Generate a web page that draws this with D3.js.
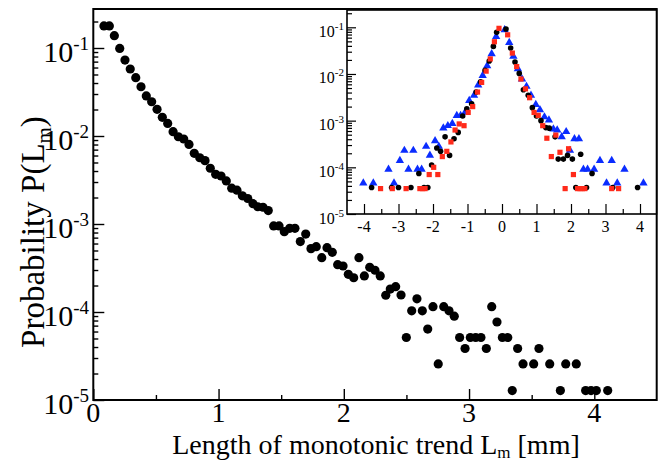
<!DOCTYPE html>
<html><head><meta charset="utf-8">
<script src="https://cdn.jsdelivr.net/npm/d3@7"></script>
<style>
body{margin:0;background:#fff}
svg{display:block}
</style>
</head><body>
<svg id="c" width="667" height="462" font-family="Liberation Serif, DejaVu Serif, serif"></svg>
<script>
// ---------------- data ----------------
const mainX = [0.085,0.128,0.168,0.211,0.253,0.295,0.339,0.381,0.423,0.466,0.509,0.551,0.594,0.637,0.679,0.722,0.764,0.806,0.850,0.892,0.934,0.977,1.020,1.062,1.105,1.147,1.190,1.233,1.275,1.313,1.355,1.397,1.440,1.483,1.525,1.568,1.610,1.653,1.696,1.738,1.780,1.824,1.866,1.908,1.951,1.994,2.036,2.079,2.121,2.164,2.207,2.249,2.291,2.335,2.371,2.414,2.457,2.499,2.542,2.584,2.627,2.670,2.712,2.754,2.798,2.840,2.882,2.925,2.968,3.010,3.053,3.095,3.138,3.181,3.223,3.266,3.309,3.345,3.388,3.431,3.516,3.558,3.644,3.729,3.772,3.856,3.931,3.974,4.016,4.107];
const mainY = [0.178,0.178,0.138,0.099,0.073,0.0577,0.046,0.0363,0.0285,0.0245,0.0201,0.0163,0.0139,0.0112,0.0098,0.00924,0.00803,0.00635,0.00566,0.00525,0.0043,0.00367,0.00351,0.00309,0.00255,0.00242,0.00209,0.00195,0.0017,0.00157,0.00155,0.00142,0.00095,0.00095,0.000817,0.000893,0.000893,0.000631,0.000769,0.000525,0.000553,0.000414,0.000538,0.000477,0.000345,0.000333,0.000268,0.000245,0.000414,0.000257,0.000322,0.000298,0.000257,0.000155,0.000182,0.000194,0.000156,5.13e-5,0.000103,0.000141,0.000103,6.4e-5,0.000115,2.57e-5,0.000115,0.000103,8.97e-5,5.13e-5,3.85e-5,5.13e-5,5.13e-5,5.13e-5,3.85e-5,0.000115,7.7e-5,5.13e-5,5.13e-5,1.28e-5,3.85e-5,2.57e-5,2.57e-5,3.85e-5,2.57e-5,1.28e-5,2.57e-5,2.57e-5,1.28e-5,1.28e-5,1.28e-5,1.28e-5];

const insetBlackX = [-3.78,-3.20,-3.00,-2.64,-2.41,-2.26,-2.15,-2.04,-1.89,-1.78,-1.65,-1.52,-1.39,-1.27,-1.14,-1.02,-0.88,-0.75,-0.62,-0.49,-0.37,-0.25,-0.155,0.116,0.25,0.377,0.50,0.62,0.76,0.88,1.00,1.13,1.27,1.37,1.54,1.63,1.78,1.90,2.04,2.14,2.28,2.45,2.61,3.21,3.93];
const insetBlackY = [3.7e-5,3.7e-5,3.7e-5,3.7e-5,7.4e-5,3.7e-5,3.7e-5,1.12e-4,2.6e-4,2.2e-4,4.5e-4,1.8e-4,4.1e-4,5.6e-4,1.26e-3,1.8e-3,2.3e-3,4.1e-3,6.8e-3,0.012,0.019,0.039,0.078,0.092,0.036,0.018,0.0103,0.0046,0.0035,0.0019,0.00126,0.001,7.1e-4,6.9e-4,4.5e-4,1.5e-4,1.5e-4,1.8e-4,1.5e-4,3.7e-5,1.9e-4,3.7e-5,7.4e-5,3.7e-5,3.7e-5];

const insetRedX = [-3.52,-3.18,-2.78,-2.38,-2.30,-2.23,-2.11,-1.98,-1.86,-1.73,-1.60,-1.48,-1.36,-1.24,-1.10,-0.98,-0.85,-0.71,-0.59,-0.46,-0.34,-0.22,-0.087,0.164,0.30,0.425,0.55,0.68,0.80,0.93,1.05,1.18,1.30,1.43,1.56,1.68,1.83,1.93,2.07,2.19,2.26,2.33,2.40,3.18,3.38];
const insetRedY = [3.5e-5,3.5e-5,3.5e-5,3.5e-5,3.5e-5,3.5e-5,7.0e-5,1.0e-4,7.0e-5,1.7e-4,2.2e-4,3.5e-4,6.3e-4,8.5e-4,7.8e-4,1.5e-3,2.0e-3,4.1e-3,6.6e-3,0.0115,0.021,0.049,0.095,0.069,0.028,0.0144,7.8e-3,4.8e-3,3.1e-3,1.5e-3,1.3e-3,7.8e-4,4.2e-4,1.7e-4,4.9e-4,2.1e-4,3.5e-5,2.5e-4,7.0e-5,3.5e-5,3.5e-5,3.5e-5,3.5e-5,3.5e-5,3.5e-5];

const insetBlueX = [-4.02,-3.73,-3.29,-3.13,-2.96,-2.83,-2.71,-2.57,-2.45,-2.33,-2.20,-2.09,-1.94,-1.83,-1.70,-1.57,-1.44,-1.31,-1.20,-1.07,-0.95,-0.81,-0.69,-0.56,-0.43,-0.30,-0.17,0.077,0.21,0.33,0.46,0.58,0.71,0.84,0.98,1.10,1.23,1.36,1.49,1.60,1.73,1.86,1.97,2.10,2.23,2.36,2.48,2.67,2.84,3.03,3.18,3.34,3.55,4.10];
const insetBlueY = [4.6e-5,4.6e-5,9.1e-5,4.6e-5,1.4e-4,2.3e-4,9.1e-5,2.3e-4,9.1e-5,9.1e-5,2.8e-4,1.8e-4,3.7e-4,2.8e-4,6.9e-4,7.8e-4,8.7e-4,1.28e-3,1.28e-3,1.5e-3,2.7e-3,3.5e-3,5.8e-3,9.2e-3,0.015,0.027,0.063,0.088,0.047,0.024,0.0129,7.8e-3,5.4e-3,3.5e-3,2.2e-3,1.7e-3,1.2e-3,1.03e-3,6.6e-4,6.3e-4,4.5e-4,5.8e-4,2.3e-4,4.1e-4,4.1e-4,9.1e-5,9.1e-5,9.1e-5,1.4e-4,4.6e-5,1.4e-4,4.6e-5,9.1e-5,4.6e-5];

const mainXTicks = [0,1,2,3,4];
const mainXMinor = [0.5,1.5,2.5,3.5];
const yExponents = [-1,-2,-3,-4,-5];
const insetXTicks = [-4,-3,-2,-1,0,1,2,3,4];
const insetXMinor = [-3.5,-2.5,-1.5,-0.5,0.5,1.5,2.5,3.5];
const xTitle = ["Length of monotonic trend L","m"," [mm]"];
const yTitle = ["Probability P(L","m",")"];

// ---------------- layout ----------------
const svg = d3.select("#c");
const main = {l:93.3, r:656.7, t:9, b:400};
const x = d3.scaleLinear().domain([0,4]).range([93.3,594.3]);
const y = d3.scaleLog().domain([1e-5,1e-1]).range([400,48]);

const ins = {l:347, r:656.5, t:10, b:214};
const xi = d3.scaleLinear().domain([-4,4]).range([364,640]);
const yi = d3.scaleLog().domain([1e-5,1e-1]).range([214,27.3]);

function minorDecades(scale, top){
  const out=[];
  for(let d=-5; d<=-1; d++) for(let k=2;k<=9;k++){
    const v=k*Math.pow(10,d);
    if(scale(v)>=top+1) out.push(v);
  }
  return out;
}

function styleAxis(g){
  g.select(".domain").remove();
  g.selectAll(".tick line").attr("stroke","#000").attr("stroke-width",1.4);
  g.selectAll(".tick text").remove();
}

// ---------------- main plot ----------------
const gm = svg.append("g");
gm.append("g").attr("transform",`translate(${main.l},0)`)
  .call(d3.axisLeft(y).tickValues(minorDecades(y,main.t)).tickSize(-5).tickFormat("")).call(styleAxis);
gm.append("g").attr("transform",`translate(${main.l},0)`)
  .call(d3.axisLeft(y).tickValues(yExponents.map(e=>Math.pow(10,e))).tickSize(-11).tickFormat("")).call(styleAxis);
gm.append("g").attr("transform",`translate(0,${main.b})`)
  .call(d3.axisBottom(x).tickValues(mainXMinor).tickSize(-5).tickFormat("")).call(styleAxis);
gm.append("g").attr("transform",`translate(0,${main.b})`)
  .call(d3.axisBottom(x).tickValues(mainXTicks).tickSize(-11).tickFormat("")).call(styleAxis);

gm.append("rect").attr("x",main.l).attr("y",main.t).attr("width",main.r-main.l).attr("height",main.b-main.t)
  .attr("fill","none").attr("stroke","#000").attr("stroke-width",2);

gm.selectAll("text.xt").data(mainXTicks).join("text").attr("class","xt")
  .attr("x",d=>x(d)).attr("y",422).attr("text-anchor","middle")
  .attr("font-size",28).text(d=>d);

yExponents.forEach(e=>{
  const t = gm.append("text").attr("x",89).attr("y",y(Math.pow(10,e))+14).attr("text-anchor","end")
    .attr("font-size",30);
  t.append("tspan").text("10");
  t.append("tspan").attr("dy",-12).attr("font-size",19).text(String(e));
});

const xt = svg.append("text").attr("x",376).attr("y",453.5).attr("text-anchor","middle").attr("font-size",28);
xt.append("tspan").text(xTitle[0]);
xt.append("tspan").attr("dy",4).attr("font-size",17).text(xTitle[1]);
xt.append("tspan").attr("dy",-4).text(xTitle[2]);

const yt = svg.append("text").attr("transform","translate(44,232) rotate(-90)").attr("text-anchor","middle").attr("font-size",33);
yt.append("tspan").text(yTitle[0]);
yt.append("tspan").attr("dy",7).attr("font-size",21).text(yTitle[1]);
yt.append("tspan").attr("dy",-7).text(yTitle[2]);

gm.selectAll("circle.pt").data(mainX.map((v,i)=>[v,mainY[i]])).join("circle").attr("class","pt")
  .attr("cx",d=>x(d[0])).attr("cy",d=>y(d[1])).attr("r",4.6).attr("fill","#000");

// ---------------- inset ----------------
const gi = svg.append("g");
gi.append("rect").attr("x",ins.l).attr("y",ins.t).attr("width",ins.r-ins.l).attr("height",ins.b-ins.t)
  .attr("fill","#fff");
gi.append("g").attr("transform",`translate(${ins.l},0)`)
  .call(d3.axisLeft(yi).tickValues(minorDecades(yi,ins.t)).tickSize(-5).tickFormat("")).call(styleAxis);
gi.append("g").attr("transform",`translate(${ins.l},0)`)
  .call(d3.axisLeft(yi).tickValues(yExponents.map(e=>Math.pow(10,e))).tickSize(-9).tickFormat("")).call(styleAxis);
gi.append("g").attr("transform",`translate(0,${ins.b})`)
  .call(d3.axisBottom(xi).tickValues(insetXMinor).tickSize(-5).tickFormat("")).call(styleAxis);
gi.append("g").attr("transform",`translate(0,${ins.b})`)
  .call(d3.axisBottom(xi).tickValues(insetXTicks).tickSize(-10).tickFormat("")).call(styleAxis);
gi.selectAll(".tick line").attr("stroke-width",1.2);
gi.append("rect").attr("x",ins.l).attr("y",ins.t).attr("width",ins.r-ins.l).attr("height",ins.b-ins.t)
  .attr("fill","none").attr("stroke","#000").attr("stroke-width",1.6);

gi.selectAll("text.ixt").data(insetXTicks).join("text").attr("class","ixt")
  .attr("x",d=>xi(d)).attr("y",232).attr("text-anchor","middle")
  .attr("font-size",16).text(d=>d);
yExponents.forEach(e=>{
  const t = gi.append("text").attr("x",344).attr("y",yi(Math.pow(10,e))+9.5).attr("text-anchor","end")
    .attr("font-size",16);
  t.append("tspan").text("10");
  t.append("tspan").attr("dy",-7).attr("font-size",11).text(String(e));
});

const sq = 5.2;
gi.selectAll("path.tri").data(insetBlueX.map((v,i)=>[v,insetBlueY[i]])).join("path").attr("class","tri")
  .attr("d",d3.symbol(d3.symbolTriangle,30)).attr("transform",d=>`translate(${xi(d[0])},${yi(d[1])})`)
  .attr("fill","#0a2cff");
gi.selectAll("circle.bk").data(insetBlackX.map((v,i)=>[v,insetBlackY[i]])).join("circle").attr("class","bk")
  .attr("cx",d=>xi(d[0])).attr("cy",d=>yi(d[1])).attr("r",2.8).attr("fill","#000");
gi.selectAll("rect.rd").data(insetRedX.map((v,i)=>[v,insetRedY[i]])).join("rect").attr("class","rd")
  .attr("x",d=>xi(d[0])-sq/2).attr("y",d=>yi(d[1])-sq/2).attr("width",sq).attr("height",sq)
  .attr("fill","#ff2a1a");
</script>
</body></html>
